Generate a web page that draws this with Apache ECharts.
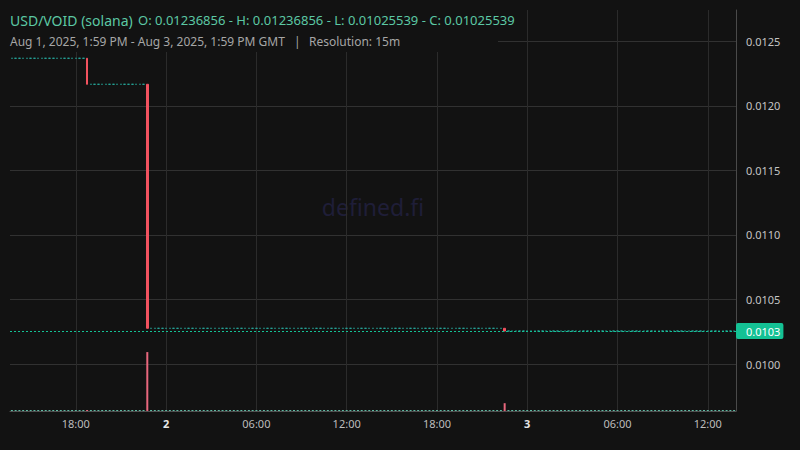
<!DOCTYPE html>
<html><head><meta charset="utf-8">
<script src="https://cdn.jsdelivr.net/npm/echarts@6/dist/echarts.min.js"></script>
<style>html,body{margin:0;padding:0;background:#121212;}#c{width:800px;height:450px;}</style>
</head><body><div id="c"></div>
<script>
// ---- data ----
const startTimeUTC = Date.UTC(2025, 7, 1, 13, 45); // first 15m bucket
const candleCount = 193;
const stepMinutes = 15;
// runs of close prices: [close, number of consecutive candles]
const closeRuns = [[0.01236856, 20], [0.01216700, 16], [0.01027660, 95], [0.01025539, 62]];
// volume spikes: [candle index, volume]; all other candles ~0
const volumeSpikes = [[36, 83], [131, 11]];
const lastPrice = 0.01025539;
const headerTitle = 'USD/VOID (solana)';
const headerOHLC = 'O: 0.01236856 - H: 0.01236856 - L: 0.01025539 - C: 0.01025539';
const headerRange = 'Aug 1, 2025, 1:59 PM - Aug 3, 2025, 1:59 PM GMT';
const headerRes = 'Resolution: 15m';

// ---- build series from the arrays ----
const categories = [];
for (let i = 0; i < candleCount; i++) {
  const d = new Date(startTimeUTC + i * stepMinutes * 60000);
  categories.push(d.toISOString().slice(0, 16));
}
const closes = [];
closeRuns.forEach(([p, n]) => { for (let k = 0; k < n; k++) closes.push(p); });
const candles = closes.map((c, i) => {
  const o = i === 0 ? c : closes[i - 1];
  return [o, c, Math.min(o, c), Math.max(o, c)];
});
const volumes = closes.map(() => 0);
volumeSpikes.forEach(([i, v]) => { volumes[i] = v; });
const volumeData = volumes.map((v, i) => ({
  value: v,
  itemStyle: { color: candles[i][1] < candles[i][0] ? '#e8677d' : '#5fb9a3' }
}));

function isLabelSlot(value) {
  const hh = +value.slice(11, 13), mm = +value.slice(14, 16);
  return mm === 0 && hh % 6 === 0;
}
function fmtLabel(value) {
  const hh = value.slice(11, 13);
  if (hh === '00') return '{d|' + (+value.slice(8, 10)) + '}';
  return hh + ':' + value.slice(14, 16);
}

const chart = echarts.init(document.getElementById('c'), null, { renderer: 'svg' });
const FONT = 'Noto Sans';
chart.setOption({
  animation: false,
  backgroundColor: '#121212',
  textStyle: { fontFamily: FONT },
  grid: [
    { left: 10, right: 64, top: 10, bottom: 39 },
    { left: 10, right: 64, top: 340, bottom: 39 }
  ],
  xAxis: [
    {
      type: 'category', gridIndex: 0, data: categories, boundaryGap: true,
      axisLine: { show: false }, axisTick: { show: false }, axisLabel: { show: false },
      splitLine: { show: true, interval: (i, v) => isLabelSlot(v), alignWithLabel: true,
        lineStyle: { color: '#2b2b2b', width: 1 } }
    },
    {
      type: 'category', gridIndex: 1, data: categories, boundaryGap: true,
      axisLine: { show: true, lineStyle: { color: '#505050', width: 1 } },
      axisTick: { show: false },
      splitLine: { show: false },
      axisLabel: {
        interval: (i, v) => isLabelSlot(v), formatter: fmtLabel,
        color: '#bdbdbd', fontSize: 11, margin: 7, fontFamily: FONT,
        rich: { d: { fontWeight: 'bold', color: '#e6e6e6', fontSize: 11, fontFamily: FONT } }
      }
    }
  ],
  yAxis: [
    {
      type: 'value', gridIndex: 0, position: 'right', scale: true,
      min: 0.0096359, max: 0.0127425, splitNumber: 6,
      axisLine: { show: true, lineStyle: { color: '#4a4a4a', width: 1 } },
      axisTick: { show: false },
      axisLabel: { color: '#c4c4c4', fontSize: 11, margin: 10, fontFamily: FONT,
        showMinLabel: false, showMaxLabel: false, formatter: v => v.toFixed(4) },
      splitLine: { show: true, showMinLine: false, showMaxLine: false,
        lineStyle: { color: '#313131', width: 1 } }
    },
    { type: 'value', gridIndex: 1, min: 0, max: 100, show: false, splitLine: { show: false } }
  ],
  graphic: [
    { type: 'text', z: 0, silent: true,
      x: 373, y: 207, style: { text: 'defined.fi', fill: '#1f1e38', fontSize: 23, fontFamily: FONT,
      textAlign: 'center', textVerticalAlign: 'middle' } },
    { type: 'rect', z: 1, silent: true, shape: { x: 0, y: 0, width: 498, height: 52 }, style: { fill: '#121212' } },
    { type: 'text', z: 5, x: 10, y: 20, style: { text: headerTitle, fill: '#5cc8a4', fontSize: 14, fontFamily: FONT, textVerticalAlign: 'middle' } },
    { type: 'text', z: 5, x: 138, y: 20, style: { text: headerOHLC, fill: '#5cc8a4', fontSize: 13, fontFamily: FONT, textVerticalAlign: 'middle' } },
    { type: 'text', z: 5, x: 10, y: 41, style: { text: headerRange, fill: '#a6a6a6', fontSize: 12, fontFamily: FONT, textVerticalAlign: 'middle' } },
    { type: 'text', z: 5, x: 294, y: 41, style: { text: '|', fill: '#a6a6a6', fontSize: 12, fontFamily: FONT, textVerticalAlign: 'middle' } },
    { type: 'text', z: 5, x: 309, y: 41, style: { text: headerRes, fill: '#a6a6a6', fontSize: 12, fontFamily: FONT, textVerticalAlign: 'middle' } }
  ],
  series: [
    {
      type: 'candlestick', xAxisIndex: 0, yAxisIndex: 0, data: candles, barWidth: 2,
      itemStyle: {
        color: '#26a69a', color0: '#f2525f', borderColor: '#26a69a', borderColor0: '#f2525f',
        borderColorDoji: '#26a69a', borderWidth: 1
      },
      markLine: {
        silent: true, symbol: ['none', 'none'], animation: false, precision: 8,
        lineStyle: { color: '#14c194', type: [2, 2], width: 1 },
        label: {
          position: 'end', distance: 0, formatter: () => lastPrice.toFixed(4),
          color: '#ffffff', backgroundColor: '#14c194', padding: [3, 3, 2, 10],
          fontSize: 11, fontFamily: FONT, borderRadius: 2
        },
        emphasis: { disabled: true },
        data: [{ yAxis: lastPrice }]
      }
    },
    {
      type: 'bar', xAxisIndex: 1, yAxisIndex: 1, data: volumeData, barWidth: 2, barMinHeight: 1
    }
  ]
});
</script></body></html>
